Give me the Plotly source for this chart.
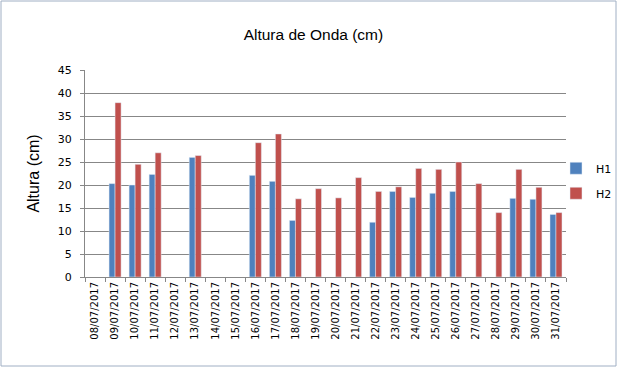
import plotly.graph_objects as go

dates = ["08/07/2017", "09/07/2017", "10/07/2017", "11/07/2017", "12/07/2017", "13/07/2017",
         "14/07/2017", "15/07/2017", "16/07/2017", "17/07/2017", "18/07/2017", "19/07/2017",
         "20/07/2017", "21/07/2017", "22/07/2017", "23/07/2017", "24/07/2017", "25/07/2017",
         "26/07/2017", "27/07/2017", "28/07/2017", "29/07/2017", "30/07/2017", "31/07/2017"]
h1 = [None, 20.3, 20.0, 22.3, None, 26.0, None, None, 22.1, 20.8, 12.3, None,
      None, None, 11.9, 18.6, 17.3, 18.2, 18.6, None, None, 17.1, 16.9, 13.6]
h2 = [None, 37.9, 24.5, 27.0, None, 26.4, None, None, 29.2, 31.1, 17.0, 19.2,
      17.2, 21.6, 18.6, 19.6, 23.6, 23.4, 25.0, 20.3, 14.0, 23.4, 19.5, 14.0]
y_ticks = [0, 5, 10, 15, 20, 25, 30, 35, 40, 45]

W, H = 617, 367
ml, mr, mt, mb = 85, 51, 70, 90

fig = go.Figure()
fig.add_trace(go.Bar(x=dates, y=h1, name="H1", marker_color="#4F81BD", legendgroup="a"))
fig.add_trace(go.Bar(x=dates, y=h2, name="H2", marker_color="#C0504D", legendgroup="b"))

pw = W - ml - mr
ph = H - mt - mb
fig.add_shape(type="rect", xref="paper", yref="paper",
              x0=-(ml - 1) / pw, x1=1 + (mr - 1) / pw,
              y0=-(mb - 1) / ph, y1=1 + (mt - 1) / ph,
              line=dict(color="#A0AFC4", width=1), layer="below")

fig.update_layout(
    width=W, height=H,
    margin=dict(l=ml, r=mr, t=mt, b=mb, autoexpand=False),
    paper_bgcolor="white", plot_bgcolor="white",
    barmode="group", bargap=0.4, bargroupgap=0,
    font=dict(family="DejaVu Sans", size=10, color="black"),
    title=dict(text="Altura de Onda (cm)", x=0.508, xanchor="center", y=1 - 35 / H, yanchor="middle",
               font=dict(family="Liberation Sans", size=15.5, color="black")),
    legend=dict(x=(556 - ml) / pw, xanchor="left", y=0.465, yanchor="middle",
                font=dict(family="DejaVu Sans", size=11, color="black"),
                traceorder="grouped", tracegroupgap=6, itemwidth=30,
                bgcolor="rgba(0,0,0,0)"),
    xaxis=dict(type="category", tickangle=-90, tickson="boundaries", ticks="outside",
               ticklen=4, tickcolor="#878787", showline=True, linecolor="#878787",
               linewidth=1, showgrid=False, tickfont=dict(size=10), automargin=False),
    yaxis=dict(range=[0, 45], tickvals=y_ticks, showgrid=True, gridcolor="#878787",
               gridwidth=1, showline=True, linecolor="#878787", ticks="outside", ticklen=4,
               tickcolor="#878787", zeroline=False, tickfont=dict(size=11), automargin=False,
               ticklabelstandoff=6,
               title=dict(text="Altura (cm)", font=dict(family="Liberation Sans", size=16),
                          standoff=14)),
)

fig.write_html("out.html", config={"displayModeBar": False},
               post_script="document.body.style.margin='0px';document.body.style.overflow='hidden';")
